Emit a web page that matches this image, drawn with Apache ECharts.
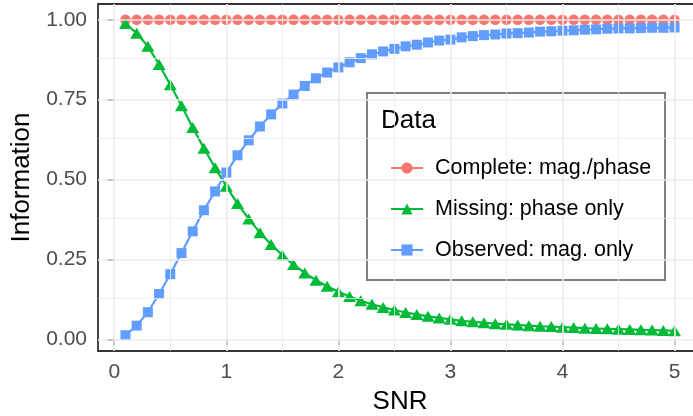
<!DOCTYPE html>
<html>
<head>
<meta charset="utf-8">
<script src="https://cdn.jsdelivr.net/npm/echarts@6/dist/echarts.min.js"></script>
<style>
  html, body { margin: 0; padding: 0; background: #fff; }
  #main { width: 693px; height: 416px; }
</style>
</head>
<body>
<div id="main"></div>
<script>
// SNR values (x)
var snr = [0.1, 0.2, 0.3, 0.4, 0.5, 0.6, 0.7, 0.8, 0.9, 1.0,
           1.1, 1.2, 1.3, 1.4, 1.5, 1.6, 1.7, 1.8, 1.9, 2.0,
           2.1, 2.2, 2.3, 2.4, 2.5, 2.6, 2.7, 2.8, 2.9, 3.0,
           3.1, 3.2, 3.3, 3.4, 3.5, 3.6, 3.7, 3.8, 3.9, 4.0,
           4.1, 4.2, 4.3, 4.4, 4.5, 4.6, 4.7, 4.8, 4.9, 5.0];

var complete = [1, 1, 1, 1, 1, 1, 1, 1, 1, 1,
                1, 1, 1, 1, 1, 1, 1, 1, 1, 1,
                1, 1, 1, 1, 1, 1, 1, 1, 1, 1,
                1, 1, 1, 1, 1, 1, 1, 1, 1, 1,
                1, 1, 1, 1, 1, 1, 1, 1, 1, 1];

var missing = [0.988, 0.958, 0.917, 0.860, 0.797, 0.731, 0.663, 0.598, 0.537, 0.479,
               0.425, 0.377, 0.334, 0.297, 0.263, 0.234, 0.208, 0.185, 0.166, 0.149,
               0.134, 0.121, 0.110, 0.100, 0.092, 0.084, 0.078, 0.072, 0.067, 0.063,
               0.058, 0.055, 0.052, 0.049, 0.047, 0.045, 0.043, 0.041, 0.040, 0.038,
               0.037, 0.035, 0.034, 0.033, 0.032, 0.031, 0.030, 0.029, 0.028, 0.027];

var observed = [0.013, 0.043, 0.085, 0.142, 0.204, 0.270, 0.338, 0.404, 0.463, 0.522,
                0.576, 0.623, 0.666, 0.704, 0.738, 0.766, 0.793, 0.817, 0.835, 0.851,
                0.867, 0.880, 0.892, 0.901, 0.909, 0.917, 0.922, 0.929, 0.935, 0.938,
                0.945, 0.949, 0.952, 0.954, 0.957, 0.958, 0.960, 0.963, 0.964, 0.966,
                0.967, 0.969, 0.970, 0.972, 0.973, 0.973, 0.974, 0.975, 0.975, 0.976];

var seriesNames = ['Complete: mag./phase', 'Missing: phase only', 'Observed: mag. only'];
var xTicks = [0, 1, 2, 3, 4, 5];
var xMinor = [0.5, 1.5, 2.5, 3.5, 4.5];
var yTicks = [0, 0.25, 0.5, 0.75, 1];
var yMinor = [0.125, 0.375, 0.625, 0.875];

var font = '"Liberation Sans", Arial, Helvetica, sans-serif';

function pairs(ys) {
    return snr.map(function (x, i) { return [x, ys[i]]; });
}

// ggplot style grid lines
var gridLines = [];
xMinor.forEach(function (v) { gridLines.push({ xAxis: v, lineStyle: { width: 0.8 } }); });
yMinor.forEach(function (v) { gridLines.push({ yAxis: v, lineStyle: { width: 0.8 } }); });
xTicks.forEach(function (v) { gridLines.push({ xAxis: v, lineStyle: { width: 1.6 } }); });
yTicks.forEach(function (v) { gridLines.push({ yAxis: v, lineStyle: { width: 1.6 } }); });

var myChart = echarts.init(document.getElementById('main'), null, { renderer: 'canvas' });

var option = {
    animation: false,
    backgroundColor: '#fff',
    textStyle: { fontFamily: font },
    grid: {
        left: 98, top: 4, width: 604, height: 347,
        outerBoundsMode: 'none',
        containLabel: false,
        show: true, borderColor: '#333333', borderWidth: 1.8, backgroundColor: '#fff'
    },
    xAxis: {
        type: 'value',
        min: -0.145, max: 5.245,
        name: 'SNR',
        nameLocation: 'middle',
        nameGap: 38,
        nameTextStyle: { color: '#000', fontSize: 26, fontFamily: font },
        axisLine: { show: false },
        axisTick: { show: true, length: 6, customValues: xTicks, lineStyle: { color: '#333333', width: 1.8 } },
        axisLabel: { customValues: xTicks, margin: 11, color: '#4D4D4D', fontSize: 21, fontFamily: font },
        splitLine: { show: false }
    },
    yAxis: {
        type: 'value',
        min: -0.0364, max: 1.0494,
        name: 'Information',
        nameLocation: 'middle',
        nameRotate: 90,
        nameGap: 57,
        nameTextStyle: { color: '#000', fontSize: 26, fontFamily: font },
        axisLine: { show: false },
        axisTick: { show: true, length: 6, customValues: yTicks, lineStyle: { color: '#333333', width: 1.8 } },
        axisLabel: {
            customValues: yTicks, margin: 11, color: '#4D4D4D', fontSize: 21, fontFamily: font,
            formatter: function (v) { return v.toFixed(2); }
        },
        splitLine: { show: false }
    },
    legend: {
        data: seriesNames,
        orient: 'vertical',
        left: 385, top: 151,
        itemWidth: 32, itemHeight: 14, itemGap: 17,
        z: 11,
        textStyle: { color: '#000', fontSize: 21.5, fontFamily: font, lineHeight: 24, padding: [0, 0, 0, 7] }
    },
    graphic: [{
        type: 'group',
        z: 10,
        children: [{
            type: 'rect',
            shape: { x: 367, y: 93, width: 298, height: 187 },
            style: { fill: '#fff', stroke: '#7F7F7F', lineWidth: 2 }
        }, {
            type: 'text',
            x: 381, y: 121,
            style: { text: 'Data', fill: '#000', font: '26px ' + font, textVerticalAlign: 'middle' }
        }]
    }],
    series: [
        {
            name: 'grid',
            type: 'line',
            data: [],
            z: 1,
            silent: true,
            markLine: {
                silent: true,
                symbol: ['none', 'none'],
                label: { show: false },
                lineStyle: { color: '#EBEBEB', type: 'solid' },
                data: gridLines
            }
        },
        {
            name: seriesNames[0], type: 'line', data: pairs(complete),
            symbol: 'circle', symbolSize: 10.5,
            itemStyle: { color: '#F8766D' },
            lineStyle: { color: '#F8766D', width: 2.2 }
        },
        {
            name: seriesNames[1], type: 'line', data: pairs(missing),
            symbol: 'triangle', symbolSize: [13, 11],
            itemStyle: { color: '#00BA38' },
            lineStyle: { color: '#00BA38', width: 2.2 }
        },
        {
            name: seriesNames[2], type: 'line', data: pairs(observed),
            symbol: 'rect', symbolSize: 10,
            itemStyle: { color: '#619CFF' },
            lineStyle: { color: '#619CFF', width: 2.2 }
        }
    ]
};

myChart.setOption(option);
</script>
</body>
</html>
